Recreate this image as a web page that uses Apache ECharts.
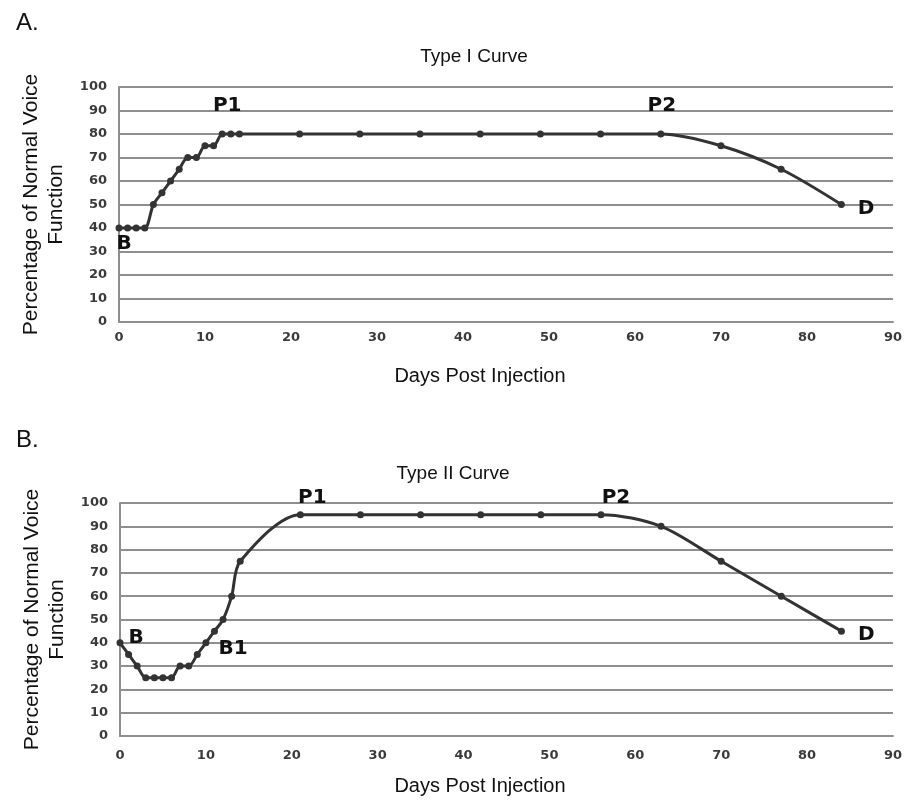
<!DOCTYPE html>
<html>
<head>
<meta charset="utf-8">
<script src="https://cdn.jsdelivr.net/npm/echarts@6/dist/echarts.min.js"></script>
<style>
    html, body { margin: 0; padding: 0; background: #fff; }
    #chart { width: 905px; height: 800px; }
</style>
</head>
<body>
<div id="chart"></div>
<script>
// days post injection (same sampling for both curves)
const daysA = [0, 1, 2, 3, 4, 5, 6, 7, 8, 9, 10, 11, 12, 13, 14, 21, 28, 35, 42, 49, 56, 63, 70, 77, 84]
const valuesA = [40, 40, 40, 40, 50, 55, 60, 65, 70, 70, 75, 75, 80, 80, 80, 80, 80, 80, 80, 80, 80, 80, 75, 65, 50]

const daysB = [0, 1, 2, 3, 4, 5, 6, 7, 8, 9, 10, 11, 12, 13, 14, 21, 28, 35, 42, 49, 56, 63, 70, 77, 84]
const valuesB = [40, 35, 30, 25, 25, 25, 25, 30, 30, 35, 40, 45, 50, 60, 75, 95, 95, 95, 95, 95, 95, 90, 75, 60, 45]

// point labels: index into the series and the text
const marksA = [[0, 'B'], [12, 'P1'], [21, 'P2'], [24, 'D']]
const marksB = [[0, 'B'], [12, 'B1'], [15, 'P1'], [20, 'P2'], [24, 'D']]

const titles = ['Type I Curve', 'Type II Curve']
const panels = ['A.', 'B.']
const xName = 'Days Post Injection'
const yName = 'Percentage of Normal Voice\nFunction'

// where each mark label sits around its point
const labelPlace = {
    'A-B': { position: 'bottom', offset: [5, -3] },
    'A-P1': { position: 'top', offset: [5, -10] },
    'A-P2': { position: 'top', offset: [1, -10] },
    'A-D': { position: 'right', offset: [8, 4] },
    'B-B': { position: 'right', offset: [0, -5] },
    'B-B1': { position: 'right', offset: [-13, 29] },
    'B-P1': { position: 'top', offset: [12, 2] },
    'B-P2': { position: 'top', offset: [15, 2] },
    'B-D': { position: 'right', offset: [8, 4] }
}

function buildData(days, values, marks, key) {
    const data = days.map((d, i) => [d, values[i]])
    marks.forEach(([idx, text]) => {
        const place = labelPlace[key + '-' + text]
        data[idx] = {
            value: data[idx],
            label: {
                show: true,
                formatter: text,
                position: place.position,
                offset: place.offset,
                fontFamily: 'DejaVu Sans',
                fontWeight: 'bold',
                fontSize: 20,
                color: '#111'
            }
        }
    })
    return data
}

const gridColor = '#8e8e8e'
const tickFont = { fontFamily: 'DejaVu Sans', fontWeight: 'bold', fontSize: 13, color: '#3a3a3a' }

function xAxisFor(gridIndex, margin) {
    return {
        gridIndex: gridIndex,
        type: 'value',
        min: 0,
        max: 90,
        interval: 10,
        axisLine: { show: true, lineStyle: { color: gridColor, width: 2 } },
        axisTick: { show: false },
        axisLabel: Object.assign({ margin: margin }, tickFont),
        splitLine: { show: false }
    }
}

function yAxisFor(gridIndex) {
    return {
        gridIndex: gridIndex,
        type: 'value',
        min: 0,
        max: 100,
        interval: 10,
        name: yName,
        nameLocation: 'middle',
        nameGap: 45,
        nameRotate: 90,
        nameTextStyle: { fontFamily: 'Liberation Sans', fontSize: 21, color: '#111', lineHeight: 25 },
        axisLine: { show: true, lineStyle: { color: gridColor, width: 2 } },
        axisTick: { show: false },
        axisLabel: Object.assign({ margin: 12 }, tickFont),
        splitLine: { show: true, lineStyle: { color: gridColor, width: 2 } }
    }
}

function seriesFor(idx, data) {
    return {
        type: 'line',
        xAxisIndex: idx,
        yAxisIndex: idx,
        data: data,
        smooth: 0.3,
        smoothConstraint: false,
        symbol: 'circle',
        symbolSize: 7,
        lineStyle: { color: '#333', width: 3 },
        itemStyle: { color: '#333' },
        emphasis: { disabled: true },
        animation: false
    }
}

function text(x, y, str, font, align) {
    return {
        type: 'text', x: x, y: y,
        style: { text: str, font: font, fill: '#111', textAlign: align, textVerticalAlign: 'middle' }
    }
}

const myChart = echarts.init(document.getElementById('chart'))

const option = {
    backgroundColor: '#fff',
    animation: false,
    graphic: [
        text(16, 23, panels[0], '24px "Liberation Sans"', 'left'),
        text(16, 440, panels[1], '24px "Liberation Sans"', 'left'),
        text(474, 57, titles[0], '19px "Liberation Sans"', 'center'),
        text(453, 474, titles[1], '19px "Liberation Sans"', 'center'),
        text(480, 376, xName, '20px "Liberation Sans"', 'center'),
        text(480, 786, xName, '20px "Liberation Sans"', 'center')
    ],
    grid: [
        { left: 119, right: 12, top: 87, height: 235 },
        { left: 120, right: 12, top: 503, height: 233 }
    ],
    xAxis: [xAxisFor(0, 9), xAxisFor(1, 13)],
    yAxis: [yAxisFor(0), yAxisFor(1)],
    series: [
        seriesFor(0, buildData(daysA, valuesA, marksA, 'A')),
        seriesFor(1, buildData(daysB, valuesB, marksB, 'B'))
    ]
}

myChart.setOption(option)

window.addEventListener('resize', function () {
    myChart.resize()
})
</script>
</body>
</html>
